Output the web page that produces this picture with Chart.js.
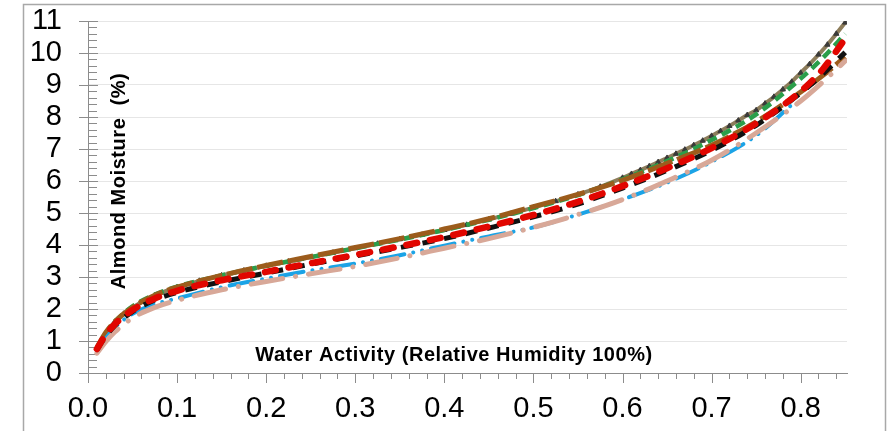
<!DOCTYPE html>
<html>
<head>
<meta charset="utf-8">
<script src="https://cdn.jsdelivr.net/npm/chart.js@4.4.1/dist/chart.umd.min.js"></script>
<style>
  html, body { margin: 0; padding: 0; background: #fff; }
</style>
</head>
<body>
<canvas id="isotherm" width="892" height="431"></canvas>
<script>
// water activity grid shared by most isotherm curves
const awGrid = [0.01, 0.02, 0.03, 0.05, 0.075, 0.1, 0.15, 0.2, 0.25, 0.3, 0.35, 0.4,
                0.45, 0.5, 0.55, 0.6, 0.65, 0.7, 0.75, 0.8, 0.825, 0.85];

const redMoisture   = [0.75, 1.2, 1.52, 1.97, 2.33, 2.57, 2.9, 3.16, 3.43, 3.69, 3.96, 4.25,
                       4.58, 4.94, 5.35, 5.84, 6.4, 7.03, 7.8, 8.8, 9.5, 10.45];
const blackMoisture = [0.72, 1.15, 1.48, 1.92, 2.28, 2.52, 2.85, 3.12, 3.4, 3.66, 3.92, 4.2,
                       4.53, 4.88, 5.28, 5.78, 6.33, 6.96, 7.74, 8.75, 9.35, 10.02];
const pinkMoisture  = [0.62, 0.98, 1.28, 1.72, 2.05, 2.27, 2.6, 2.86, 3.1, 3.33, 3.6, 3.9,
                       4.2, 4.55, 4.95, 5.42, 6.0, 6.65, 7.5, 8.5, 9.1, 9.75];
const brownMoisture = [0.8, 1.27, 1.6, 2.05, 2.43, 2.68, 3.05, 3.36, 3.64, 3.92, 4.2, 4.5,
                       4.82, 5.2, 5.58, 6.02, 6.55, 7.12, 7.85, 8.78, 9.3, 9.88];
const greenMoisture = [0.78, 1.25, 1.6, 2.08, 2.45, 2.7, 3.05, 3.35, 3.62, 3.9, 4.17, 4.47,
                       4.79, 5.15, 5.56, 6.05, 6.62, 7.28, 8.08, 9.2, 9.85, 10.6];

// the blue curve stops a little short
const blueAw       = [0.01, 0.02, 0.03, 0.05, 0.075, 0.1, 0.15, 0.2, 0.25, 0.3, 0.35, 0.4,
                      0.45, 0.5, 0.55, 0.6, 0.65, 0.7, 0.75, 0.79];
const blueMoisture = [0.68, 1.08, 1.42, 1.85, 2.15, 2.33, 2.68, 2.95, 3.2, 3.42, 3.68, 3.98,
                      4.27, 4.55, 4.95, 5.42, 5.95, 6.6, 7.42, 8.38];

// measured curve with triangle markers, denser at high humidity
const measuredAw = [0.01, 0.02, 0.03, 0.04, 0.05, 0.075, 0.1, 0.125, 0.15, 0.175, 0.2, 0.225,
                    0.25, 0.275, 0.3, 0.325, 0.35, 0.375, 0.4, 0.425, 0.45, 0.475, 0.5, 0.525,
                    0.55, 0.575, 0.6, 0.61, 0.62, 0.63, 0.64, 0.65, 0.66, 0.67, 0.68, 0.69,
                    0.7, 0.71, 0.72, 0.73, 0.74, 0.75, 0.76, 0.77, 0.78, 0.79, 0.8, 0.81,
                    0.82, 0.83, 0.84, 0.85];
const measuredMoisture = [0.78, 1.25, 1.6, 1.85, 2.05, 2.42, 2.68, 2.88, 3.05, 3.2, 3.35, 3.48,
                          3.62, 3.76, 3.9, 4.04, 4.18, 4.32, 4.47, 4.63, 4.8, 4.98, 5.17, 5.37,
                          5.58, 5.82, 6.1, 6.22, 6.34, 6.46, 6.59, 6.72, 6.85, 6.98, 7.12, 7.26,
                          7.41, 7.56, 7.72, 7.89, 8.06, 8.21, 8.42, 8.63, 8.86, 9.1, 9.38, 9.65,
                          9.95, 10.26, 10.6, 10.95];

const xTickValues = [0, 0.1, 0.2, 0.3, 0.4, 0.5, 0.6, 0.7, 0.8];
const yTickValues = [0, 1, 2, 3, 4, 5, 6, 7, 8, 9, 10, 11];

const xTitle = 'Water Activity (Relative Humidity 100%)';
const yTitle = 'Almond Moisture  (%)';

const toPoints = (xs, ys) => xs.map((v, i) => ({ x: v, y: ys[i] }));
const FONT = "'Liberation Sans', Arial, sans-serif";
const AXIS = '#8c8c8c';

// frame, minor tick marks and the in-plot axis titles
const decor = {
  id: 'decor',
  beforeDraw(chart) {
    const ctx = chart.ctx;
    ctx.save();
    ctx.fillStyle = '#fff';
    ctx.fillRect(0, 0, chart.width, chart.height);
    ctx.strokeStyle = '#a8a8a8';
    ctx.lineWidth = 1.5;
    ctx.strokeRect(23.5, 4.5, 862, 440);
    ctx.restore();
  },
  beforeDatasetsDraw(chart) {
    const { ctx, scales: { x, y } } = chart;
    ctx.save();
    ctx.strokeStyle = AXIS;
    ctx.lineWidth = 1;
    for (let i = 0; i <= 55; i++) {
      const py = Math.round(y.getPixelForValue(i / 5)) + 0.5;
      const major = i % 5 === 0;
      ctx.beginPath();
      ctx.moveTo(x.left + (major ? -9 : 0), py);
      ctx.lineTo(x.left + (major ? 10 : 9), py);
      ctx.stroke();
    }
    for (let i = 0; i <= 42; i++) {
      const px = Math.round(x.getPixelForValue(i / 50)) + 0.5;
      const major = i % 5 === 0;
      ctx.beginPath();
      ctx.moveTo(px, y.bottom);
      ctx.lineTo(px, y.bottom + (major ? 10 : 6));
      ctx.stroke();
    }
    ctx.restore();
  },
  afterDraw(chart) {
    const ctx = chart.ctx;
    ctx.save();
    ctx.fillStyle = '#000';
    ctx.font = 'bold 20px ' + FONT;
    ctx.letterSpacing = '0.55px';
    ctx.textAlign = 'center';
    ctx.textBaseline = 'middle';
    ctx.fillText(xTitle, 454, 355);
    ctx.translate(119, 181);
    ctx.rotate(-Math.PI / 2);
    ctx.fillText(yTitle, 0, 0);
    ctx.restore();
  }
};

new Chart(document.getElementById('isotherm'), {
  type: 'line',
  data: {
    datasets: [
      { data: toPoints(awGrid, redMoisture), borderColor: '#e10600', borderWidth: 6.5,
        borderDash: [11, 13], borderCapStyle: 'round' },
      { data: toPoints(awGrid, blackMoisture), borderColor: '#111', borderWidth: 5,
        borderDash: [12, 10] },
      { data: toPoints(awGrid, pinkMoisture), borderColor: '#d8a898', borderWidth: 5,
        borderDash: [32, 13, 0.1, 13], borderCapStyle: 'round' },
      { data: toPoints(blueAw, blueMoisture), borderColor: '#1ba3e6', borderWidth: 4,
        borderDash: [24, 9, 0.1, 9, 0.1, 9], borderCapStyle: 'round' },
      { data: toPoints(awGrid, brownMoisture), borderColor: '#9c5c1c', borderWidth: 5,
        borderDash: [26, 5] },
      { data: toPoints(awGrid, greenMoisture), borderColor: '#2a9e4a', borderWidth: 4.5,
        borderDash: [10, 6] },
      { data: toPoints(measuredAw, measuredMoisture), borderColor: '#8d7d5b', borderWidth: 4,
        pointStyle: 'triangle', pointRadius: 3, pointBackgroundColor: '#3a3a3a',
        pointBorderColor: '#3a3a3a', pointBorderWidth: 1 }
    ]
  },
  options: {
    responsive: false,
    animation: false,
    layout: { padding: { top: 21, right: 45, left: 0, bottom: 0 } },
    plugins: { legend: { display: false }, tooltip: { enabled: false } },
    elements: {
      point: { radius: 0 },
      line: { cubicInterpolationMode: 'monotone', fill: false }
    },
    scales: {
      x: {
        type: 'linear', min: 0, max: 0.852,
        afterBuildTicks: s => { s.ticks = xTickValues.map(v => ({ value: v })); },
        afterFit: s => { s.height = 58; },
        grid: { display: false, drawTicks: false },
        border: { color: AXIS, width: 1 },
        ticks: { color: '#000', font: { family: FONT, size: 29 }, padding: 19,
                 maxRotation: 0, autoSkip: false, callback: v => v.toFixed(1) }
      },
      y: {
        type: 'linear', min: 0, max: 11,
        afterBuildTicks: s => { s.ticks = yTickValues.map(v => ({ value: v })); },
        afterFit: s => { s.width = 88; },
        // invisible tick marks hold the labels away from the axis
        grid: { color: '#e6e6e6', drawTicks: true, tickLength: 24, tickColor: 'rgba(0,0,0,0)' },
        border: { color: AXIS, width: 1 },
        ticks: { color: '#000', font: { family: FONT, size: 29 }, padding: 2,
                 autoSkip: false }
      }
    }
  },
  plugins: [decor]
});
</script>
</body>
</html>
